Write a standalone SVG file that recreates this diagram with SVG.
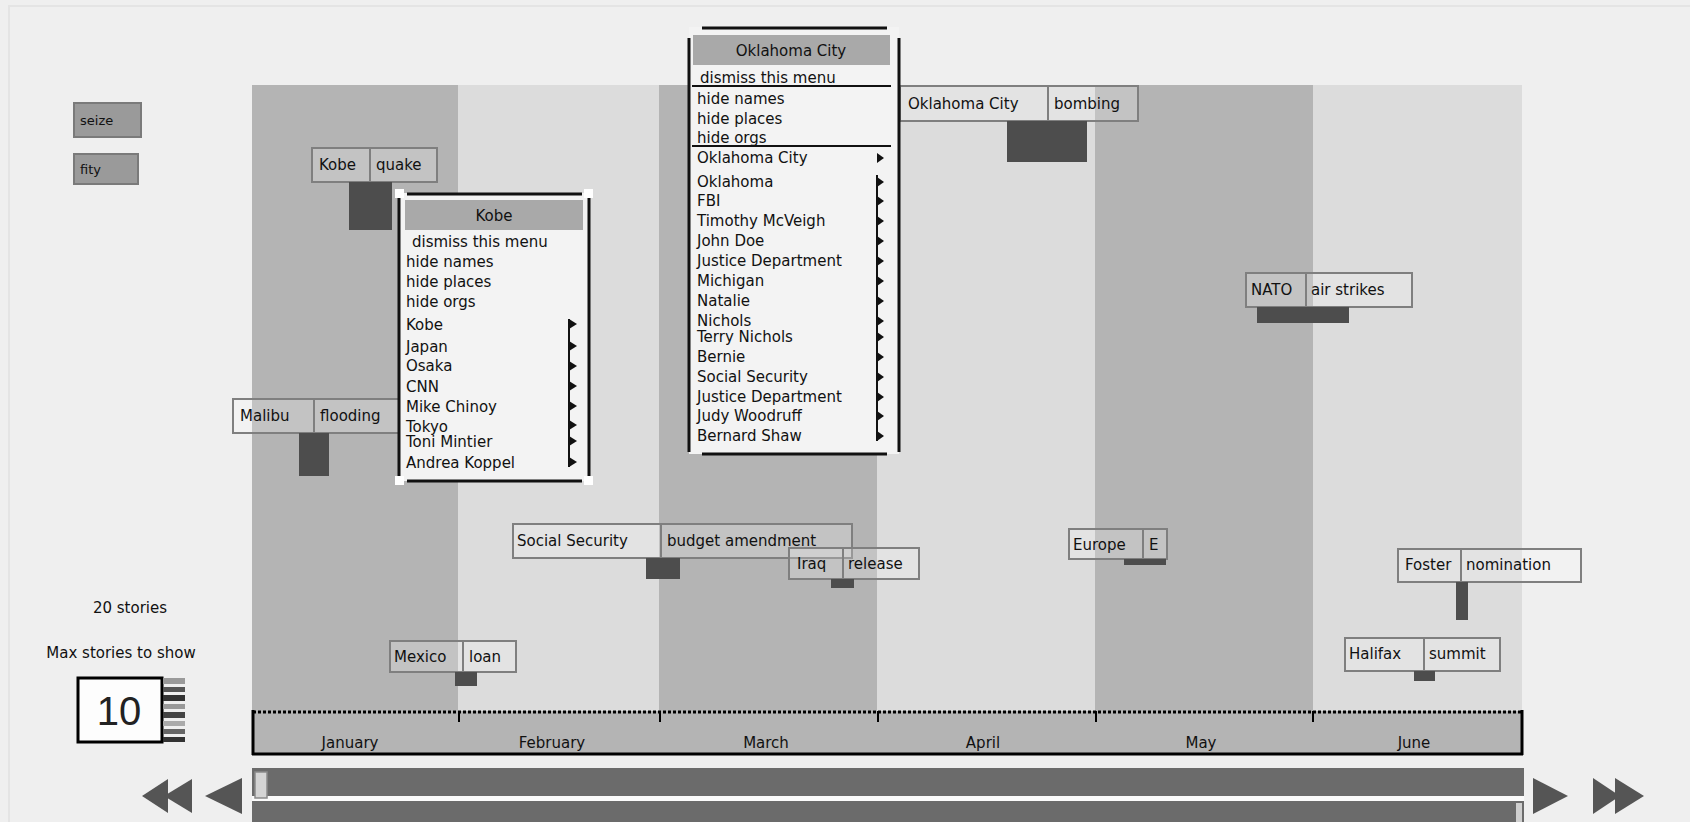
<svg xmlns="http://www.w3.org/2000/svg" width="1690" height="822" viewBox="0 0 1690 822">
<defs>
<style>
text{font-family:"DejaVu Sans","Liberation Sans",sans-serif;font-size:15px;fill:#111}
.cell{fill:#ffffff;fill-opacity:0.2;stroke:#7f7f7f;stroke-width:2}
.sep{stroke:#7f7f7f;stroke-width:2}
.bar{fill:#4d4d4d}
.dark{fill:#b4b4b4}
.light{fill:#dcdcdc}
.menu{fill:#f3f3f3}
.mb{stroke:#111;stroke-width:3}
.hdr{fill:#a9a9a9}
.tri{fill:#111}
.mid{text-anchor:middle}
.btn{fill:#9a9a9a;stroke:#7a7a7a;stroke-width:2}
.arrow{fill:#555}
.scroll{fill:#6b6b6b}
</style>
</defs>
<rect width="1690" height="822" fill="#efefef"/>
<rect x="9" y="6" width="1690" height="830" fill="none" stroke="#e4e4e4" stroke-width="2"/>

<g id="columns">
<rect class="dark" x="252" y="85" width="206" height="626"/>
<rect class="light" x="458" y="85" width="201" height="626"/>
<rect class="dark" x="659" y="85" width="218" height="626"/>
<rect class="light" x="877" y="85" width="218" height="626"/>
<rect class="dark" x="1095" y="85" width="218" height="626"/>
<rect class="light" x="1313" y="85" width="209" height="626"/>
</g>

<g id="controls">
<rect class="btn" x="74" y="103" width="67" height="34"/>
<text x="80" y="125" style="font-size:13px">seize</text>
<rect class="btn" x="74" y="154" width="64" height="30"/>
<text x="80" y="174" style="font-size:13px">fity</text>
<text class="mid" x="130" y="613">20 stories</text>
<text class="mid" x="121" y="658">Max stories to show</text>
<rect x="78" y="678" width="84" height="64" fill="#fdfdfd" stroke="#000" stroke-width="3"/>
<text class="mid" x="119" y="725" style="font-family:'Liberation Sans',sans-serif;font-size:40px;fill:#222">10</text>
<g id="spinner">
<rect x="163" y="678" width="22" height="6" fill="#9a9a9a"/>
<rect x="163" y="687" width="22" height="5" fill="#555"/>
<rect x="163" y="695" width="22" height="6" fill="#333"/>
<rect x="163" y="704" width="22" height="5" fill="#999"/>
<rect x="163" y="712" width="22" height="6" fill="#444"/>
<rect x="163" y="721" width="22" height="5" fill="#aaa"/>
<rect x="163" y="729" width="22" height="5" fill="#666"/>
<rect x="163" y="737" width="22" height="5" fill="#333"/>
</g>
</g>

<g id="axis">
<rect class="dark" x="253" y="711" width="1269" height="42"/>
<line x1="253" y1="712" x2="1522" y2="712" stroke="#000" stroke-width="3" stroke-dasharray="3,2"/>
<line x1="253" y1="710" x2="253" y2="755" stroke="#000" stroke-width="3"/>
<line x1="1522" y1="710" x2="1522" y2="755" stroke="#000" stroke-width="3"/>
<line x1="252" y1="754" x2="1523" y2="754" stroke="#000" stroke-width="3"/>
<g stroke="#000" stroke-width="2">
<line x1="459" y1="711" x2="459" y2="722"/>
<line x1="660" y1="711" x2="660" y2="722"/>
<line x1="878" y1="711" x2="878" y2="722"/>
<line x1="1096" y1="711" x2="1096" y2="722"/>
<line x1="1313" y1="711" x2="1313" y2="722"/>
</g>
<text class="mid" x="350" y="748">January</text>
<text class="mid" x="552" y="748">February</text>
<text class="mid" x="766" y="748">March</text>
<text class="mid" x="983" y="748">April</text>
<text class="mid" x="1201" y="748">May</text>
<text class="mid" x="1414" y="748">June</text>
</g>

<g id="scrollbars">
<rect class="scroll" x="252" y="768" width="1272" height="28"/>
<rect x="252" y="796" width="1272" height="5" fill="#fafafa"/>
<rect class="scroll" x="252" y="801" width="1272" height="21"/>
<rect x="255" y="772" width="12" height="26" fill="#d4d4d4" stroke="#8a8a8a" stroke-width="1.5"/>
<rect x="1516" y="803" width="6" height="19" fill="#cfcfcf"/>
<polygon class="arrow" points="142,796 168,779 168,813"/>
<polygon class="arrow" points="164,796 192,779 192,813"/>
<polygon class="arrow" points="205,796 242,778 242,814"/>
<polygon class="arrow" points="1533,778 1568,796 1533,814"/>
<polygon class="arrow" points="1593,778 1620,796 1593,814"/>
<polygon class="arrow" points="1615,778 1644,796 1615,814"/>
</g>

<g id="connectors"></g>

<g id="node-kobe-quake">
<rect class="cell" x="312" y="148" width="125" height="34"/>
<line class="sep" x1="370" y1="148" x2="370" y2="182"/>
<text x="319" y="170">Kobe</text>
<text x="376" y="170">quake</text>
<rect class="bar" x="349" y="182" width="43" height="48"/>
</g>

<g id="node-oklahoma-bombing">
<rect class="cell" x="900" y="86" width="238" height="35"/>
<line class="sep" x1="1048" y1="86" x2="1048" y2="121"/>
<text x="908" y="109">Oklahoma City</text>
<text x="1054" y="109">bombing</text>
<rect class="bar" x="1007" y="121" width="80" height="41"/>
</g>

<g id="node-nato-airstrikes">
<rect class="cell" x="1246" y="273" width="166" height="34"/>
<line class="sep" x1="1306" y1="273" x2="1306" y2="307"/>
<text x="1251" y="295">NATO</text>
<text x="1311" y="295">air strikes</text>
<rect class="bar" x="1257" y="307" width="92" height="16"/>
</g>

<g id="node-malibu-flooding">
<rect class="cell" x="233" y="399" width="168" height="34"/>
<line class="sep" x1="314" y1="399" x2="314" y2="433"/>
<text x="240" y="421">Malibu</text>
<text x="320" y="421">flooding</text>
<rect class="bar" x="299" y="433" width="30" height="43"/>
</g>

<g id="node-socialsecurity-budget">
<rect class="cell" x="513" y="524" width="339" height="34"/>
<line class="sep" x1="661" y1="524" x2="661" y2="558"/>
<text x="517" y="546">Social Security</text>
<text x="667" y="546">budget amendment</text>
<rect class="bar" x="646" y="558" width="34" height="21"/>
</g>

<g id="node-iraq-release">
<rect class="cell" x="789" y="548" width="130" height="31"/>
<line class="sep" x1="843" y1="548" x2="843" y2="579"/>
<text x="797" y="569">Iraq</text>
<text x="848" y="569">release</text>
<rect class="bar" x="831" y="579" width="23" height="9"/>
</g>

<g id="node-europe-e">
<rect class="cell" x="1069" y="529" width="98" height="30"/>
<line class="sep" x1="1143" y1="529" x2="1143" y2="559"/>
<text x="1073" y="550">Europe</text>
<text x="1149" y="550">E</text>
<rect class="bar" x="1124" y="559" width="42" height="6"/>
</g>

<g id="node-foster-nomination">
<rect class="cell" x="1398" y="549" width="183" height="33"/>
<line class="sep" x1="1461" y1="549" x2="1461" y2="582"/>
<text x="1405" y="570">Foster</text>
<text x="1466" y="570">nomination</text>
<rect class="bar" x="1456" y="582" width="12" height="38"/>
</g>

<g id="node-halifax-summit">
<rect class="cell" x="1345" y="638" width="155" height="33"/>
<line class="sep" x1="1424" y1="638" x2="1424" y2="671"/>
<text x="1349" y="659">Halifax</text>
<text x="1429" y="659">summit</text>
<rect class="bar" x="1414" y="671" width="21" height="10"/>
</g>

<g id="node-mexico-loan">
<rect class="cell" x="390" y="641" width="126" height="31"/>
<line class="sep" x1="463" y1="641" x2="463" y2="672"/>
<text x="394" y="662">Mexico</text>
<text x="469" y="662">loan</text>
<rect class="bar" x="455" y="672" width="22" height="14"/>
</g>

<g id="menu-kobe">
<rect class="menu" x="399" y="193" width="190" height="288"/>
<rect class="hdr" x="405" y="200" width="178" height="30"/>
<line class="mb" x1="399" y1="197" x2="399" y2="478"/>
<line class="mb" x1="589" y1="197" x2="589" y2="478"/>
<line class="mb" x1="407" y1="194" x2="582" y2="194"/>
<line class="mb" x1="407" y1="481" x2="582" y2="481"/>
<g fill="#ffffff">
<rect x="395" y="189" width="9" height="9"/>
<rect x="584" y="189" width="9" height="9"/>
<rect x="395" y="476" width="9" height="9"/>
<rect x="584" y="476" width="9" height="9"/>
</g>
<text class="mid" x="494" y="221">Kobe</text>
<text x="412" y="247">dismiss this menu</text>
<text x="406" y="267">hide names</text>
<text x="406" y="287">hide places</text>
<text x="406" y="307">hide orgs</text>
<text x="406" y="330">Kobe</text>
<text x="406" y="352">Japan</text>
<text x="406" y="371">Osaka</text>
<text x="406" y="392">CNN</text>
<text x="406" y="412">Mike Chinoy</text>
<text x="406" y="432">Tokyo</text>
<text x="406" y="447">Toni Mintier</text>
<text x="406" y="468">Andrea Koppel</text>
<g class="tri">
<polygon points="569,319 577,324 569,329"/>
<polygon points="569,341 577,346 569,351"/>
<polygon points="569,361 577,366 569,371"/>
<polygon points="569,381 577,386 569,391"/>
<polygon points="569,401 577,406 569,411"/>
<polygon points="569,420 577,425 569,430"/>
<polygon points="569,436 577,441 569,446"/>
<polygon points="569,457 577,462 569,467"/>
<rect x="568" y="319" width="2" height="148"/>
</g>
</g>

<g id="menu-oklahoma">
<rect class="menu" x="689" y="27" width="210" height="427"/>
<rect class="hdr" x="693" y="35" width="197" height="30"/>
<line class="mb" x1="689" y1="38" x2="689" y2="452"/>
<line class="mb" x1="899" y1="38" x2="899" y2="452"/>
<line class="mb" x1="702" y1="28" x2="887" y2="28"/>
<line class="mb" x1="702" y1="454" x2="887" y2="454"/>
<line x1="692" y1="86" x2="891" y2="86" stroke="#111" stroke-width="2"/>
<line x1="692" y1="146" x2="891" y2="146" stroke="#111" stroke-width="2"/>
<text class="mid" x="791" y="56">Oklahoma City</text>
<text x="700" y="83">dismiss this menu</text>
<text x="697" y="104">hide names</text>
<text x="697" y="124">hide places</text>
<text x="697" y="143">hide orgs</text>
<text x="697" y="163">Oklahoma City</text>
<text x="697" y="187">Oklahoma</text>
<text x="697" y="206">FBI</text>
<text x="697" y="226">Timothy McVeigh</text>
<text x="697" y="246">John Doe</text>
<text x="697" y="266">Justice Department</text>
<text x="697" y="286">Michigan</text>
<text x="697" y="306">Natalie</text>
<text x="697" y="326">Nichols</text>
<text x="697" y="342">Terry Nichols</text>
<text x="697" y="362">Bernie</text>
<text x="697" y="382">Social Security</text>
<text x="697" y="402">Justice Department</text>
<text x="697" y="421">Judy Woodruff</text>
<text x="697" y="441">Bernard Shaw</text>
<g class="tri">
<polygon points="877,153 884,158 877,163"/>
<polygon points="877,177 884,182 877,187"/>
<polygon points="877,196 884,201 877,206"/>
<polygon points="877,216 884,221 877,226"/>
<polygon points="877,236 884,241 877,246"/>
<polygon points="877,256 884,261 877,266"/>
<polygon points="877,276 884,281 877,286"/>
<polygon points="877,296 884,301 877,306"/>
<polygon points="877,316 884,321 877,326"/>
<polygon points="877,332 884,337 877,342"/>
<polygon points="877,352 884,357 877,362"/>
<polygon points="877,372 884,377 877,382"/>
<polygon points="877,392 884,397 877,402"/>
<polygon points="877,411 884,416 877,421"/>
<polygon points="877,431 884,436 877,441"/>
<rect x="876" y="175" width="2" height="266"/>
</g>
</g>
</svg>
